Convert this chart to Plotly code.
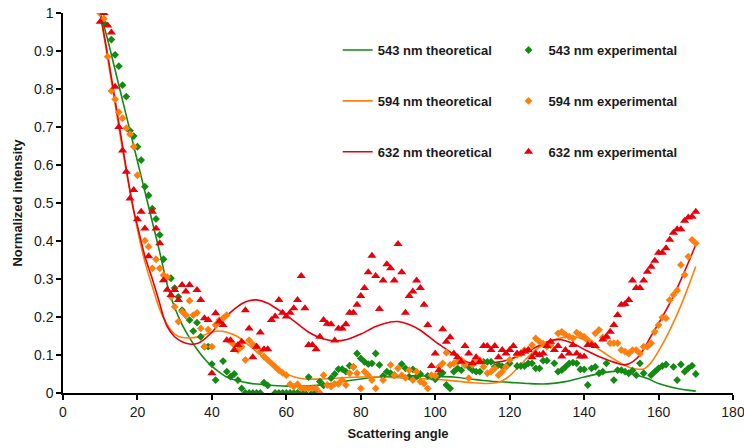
import plotly.graph_objects as go

# ---- theoretical curves (angle in degrees, normalized intensity) ----
th_543_x = [10, 12, 14, 16, 18, 20, 22, 24, 26, 28, 30, 32, 34, 36, 38, 40, 42, 44, 47, 50,
            55, 60, 65, 70, 75, 80, 85, 90, 95, 100, 105, 110, 115, 120, 125, 130, 135, 140,
            145, 148, 150, 153, 157, 160, 165, 170]
th_543_y = [1.0, 0.93, 0.85, 0.77, 0.69, 0.61, 0.53, 0.45, 0.37, 0.285, 0.225, 0.18, 0.145,
            0.115, 0.09, 0.07, 0.055, 0.042, 0.032, 0.026, 0.021, 0.018, 0.018, 0.022, 0.03,
            0.037, 0.042, 0.045, 0.045, 0.044, 0.042, 0.036, 0.031, 0.028, 0.025, 0.024, 0.03,
            0.042, 0.053, 0.057, 0.056, 0.05, 0.038, 0.025, 0.012, 0.005]

th_594_x = [10, 12, 14, 16, 18, 20, 22, 24, 26, 28, 30, 32, 34, 36, 38, 40, 42, 44, 47, 50,
            53, 56, 59, 62, 65, 70, 75, 80, 85, 90, 95, 100, 105, 110, 114, 117, 120, 123,
            126, 129, 132, 135, 138, 141, 144, 147, 150, 152, 154, 156, 158, 160, 163, 166,
            168, 170]
th_594_y = [1.0, 0.88, 0.76, 0.64, 0.53, 0.43, 0.345, 0.28, 0.22, 0.18, 0.155, 0.146, 0.145,
            0.147, 0.153, 0.16, 0.163, 0.16, 0.148, 0.125, 0.1, 0.075, 0.055, 0.043, 0.037,
            0.037, 0.04, 0.042, 0.042, 0.04, 0.039, 0.036, 0.032, 0.027, 0.025, 0.028, 0.045,
            0.075, 0.105, 0.127, 0.14, 0.147, 0.147, 0.135, 0.115, 0.095, 0.078, 0.068, 0.063,
            0.063, 0.08, 0.11, 0.165, 0.23, 0.28, 0.333]

th_632_x = [10, 12, 14, 16, 17.5, 19, 20, 22, 24, 26, 27, 28, 30, 32, 34, 36, 38, 40, 42, 45,
            48, 50, 52, 55, 58, 62, 66, 70, 73, 76, 80, 84, 88, 90, 93, 96, 100, 103, 106,
            109, 112, 116, 120, 124, 128, 131, 134, 137, 141, 145, 149, 151, 153, 155, 158,
            161, 164, 167, 170]
th_632_y = [1.0, 0.89, 0.77, 0.65, 0.56, 0.48, 0.44, 0.36, 0.3, 0.235, 0.2, 0.175, 0.148,
            0.135, 0.129, 0.13, 0.142, 0.16, 0.182, 0.212, 0.235, 0.243, 0.245, 0.236, 0.218,
            0.19, 0.16, 0.142, 0.137, 0.14, 0.155, 0.175, 0.187, 0.188, 0.18, 0.165, 0.135,
            0.115, 0.095, 0.08, 0.078, 0.08, 0.088, 0.105, 0.125, 0.138, 0.14, 0.13, 0.11,
            0.092, 0.078, 0.074, 0.082, 0.1, 0.15, 0.2, 0.255, 0.32, 0.39]

# ---- experimental measurements ----
ex_543_x = [10, 11, 13, 14, 15, 16, 17, 18, 19, 20, 21, 22, 23, 24, 25, 26, 27, 29, 30, 31,
            32, 33, 34, 35, 36, 37, 38, 39, 40, 41, 43, 44, 45, 46, 47, 48, 49, 50, 51, 52,
            53, 54, 55, 57, 58, 59, 60, 61, 62, 63, 64, 65, 66, 67, 68, 69, 70, 72, 73, 74,
            75, 76, 77, 78, 79, 80, 81, 82, 83, 84, 85, 86, 87, 88, 89, 91, 92, 93, 94, 95,
            96, 98, 99, 100, 101, 102, 103, 104, 105, 106, 107, 108, 109, 110, 111, 112, 113,
            114, 115, 116, 117, 118, 119, 120, 122, 123, 124, 125, 126, 127, 128, 129, 130,
            132, 133, 134, 135, 136, 137, 138, 139, 140, 141, 142, 143, 144, 145, 146, 148,
            149, 150, 151, 152, 153, 154, 155, 156, 158, 159, 160, 161, 162, 164, 165, 166,
            167, 168, 169, 170]
ex_543_y = [1.0, 0.973, 0.93, 0.89, 0.86, 0.81, 0.78, 0.69, 0.676, 0.648, 0.613, 0.543, 0.52,
            0.485, 0.458, 0.416, 0.352, 0.302, 0.276, 0.253, 0.218, 0.205, 0.192, 0.163, 0.185,
            0.148, 0.122, 0.122, 0.076, 0.034, 0.084, 0.056, 0.043, 0.05, 0.034, 0.012, 0.0,
            0.0, 0.0, 0.0, 0.0, 0.027, 0.02, 0.0, 0.0, 0.0, 0.0, 0.0, 0.0, 0.0, 0.0, 0.0, 0.042,
            0.0, 0.0, 0.03, 0.02, 0.039, 0.05, 0.063, 0.063, 0.056, 0.072, 0.069, 0.104, 0.091,
            0.082, 0.076, 0.078, 0.104, 0.074, 0.045, 0.056, 0.052, 0.047, 0.076, 0.065, 0.043,
            0.062, 0.043, 0.05, 0.045, 0.043, 0.036, 0.047, 0.053, 0.021, 0.012, 0.056, 0.065,
            0.06, 0.074, 0.069, 0.06, 0.056, 0.056, 0.082, 0.082, 0.082, 0.069, 0.074, 0.07,
            0.069, 0.078, 0.071, 0.071, 0.071, 0.078, 0.078, 0.065, 0.065, 0.085, 0.085, 0.078,
            0.056, 0.06, 0.069, 0.078, 0.08, 0.078, 0.062, 0.062, 0.021, 0.065, 0.069, 0.052,
            0.056, 0.078, 0.034, 0.06, 0.06, 0.056, 0.052, 0.059, 0.047, 0.078, 0.052, 0.047,
            0.056, 0.065, 0.071, 0.075, 0.069, 0.034, 0.075, 0.056, 0.065, 0.072, 0.05, 0.056]

ex_594_x = [10, 11, 12, 13, 14, 15, 16, 17, 18, 19, 20, 22, 23, 24, 25, 26, 27, 28, 29, 30,
            31, 32, 33, 34, 35, 36, 37, 38, 39, 40, 41, 42, 43, 44, 45, 46, 47, 48, 49, 50,
            51, 52, 53, 54, 55, 56, 57, 58, 59, 60, 61, 62, 63, 64, 65, 66, 67, 68, 69, 70,
            71, 72, 73, 74, 75, 76, 77, 78, 79, 80, 81, 82, 83, 84, 86, 88, 89, 90, 91, 92,
            93, 94, 95, 96, 97, 98, 99, 100, 101, 102, 103, 104, 105, 106, 107, 108, 109, 110,
            111, 112, 113, 114, 115, 116, 117, 118, 119, 120, 122, 123, 124, 125, 126, 127,
            128, 129, 130, 131, 133, 134, 135, 136, 137, 138, 139, 140, 141, 142, 143, 144,
            145, 146, 147, 148, 149, 150, 151, 152, 153, 154, 155, 156, 157, 158, 159, 160,
            161, 162, 163, 164, 165, 166, 167, 168, 169, 170]
ex_594_y = [1.0, 0.985, 0.885, 0.795, 0.773, 0.739, 0.723, 0.697, 0.681, 0.648, 0.573, 0.401,
            0.385, 0.328, 0.352, 0.328, 0.31, 0.305, 0.253, 0.227, 0.188, 0.214, 0.205, 0.243,
            0.205, 0.211, 0.17, 0.122, 0.167, 0.122, 0.179, 0.192, 0.197, 0.205, 0.135, 0.126,
            0.113, 0.122, 0.087, 0.139, 0.128, 0.122, 0.109, 0.096, 0.087, 0.078, 0.069, 0.06,
            0.053, 0.047, 0.023, 0.017, 0.023, 0.012, 0.012, 0.012, 0.012, 0.012, 0.0, 0.047,
            0.021, 0.017, 0.024, 0.024, 0.034, 0.021, 0.052, 0.069, 0.052, 0.012, 0.056, 0.047,
            0.034, 0.012, 0.034, 0.074, 0.047, 0.065, 0.047, 0.04, 0.06, 0.034, 0.056, 0.03,
            0.025, 0.012, 0.047, 0.045, 0.069, 0.078, 0.106, 0.074, 0.078, 0.082, 0.087, 0.074,
            0.039, 0.074, 0.087, 0.087, 0.069, 0.052, 0.056, 0.065, 0.047, 0.056, 0.069, 0.087,
            0.1, 0.104, 0.113, 0.113, 0.126, 0.144, 0.135, 0.13, 0.122, 0.126, 0.157, 0.161,
            0.153, 0.148, 0.144, 0.159, 0.153, 0.148, 0.139, 0.131, 0.157, 0.166, 0.146, 0.148,
            0.131, 0.131, 0.131, 0.113, 0.109, 0.104, 0.113, 0.113, 0.104, 0.122, 0.122, 0.131,
            0.161, 0.179, 0.199, 0.197, 0.245, 0.258, 0.27, 0.337, 0.311, 0.359, 0.403, 0.394]

ex_632_x = [10, 11, 12, 13, 14, 15, 16, 17, 18, 19, 20, 21, 22, 23, 24, 25, 26, 27, 28, 29,
            30, 31, 32, 33, 34, 36, 37, 38, 39, 40, 41, 42, 43, 44, 45, 46, 47, 48, 49, 50,
            51, 52, 53, 54, 55, 56, 57, 58, 59, 60, 61, 62, 63, 64, 65, 66, 67, 68, 69, 70,
            71, 72, 73, 74, 75, 76, 77, 78, 79, 80, 81, 82, 83, 84, 85, 86, 87, 88, 89, 90,
            91, 92, 93, 94, 95, 96, 97, 98, 99, 100, 101, 102, 103, 104, 105, 106, 107, 108,
            109, 110, 111, 112, 113, 114, 115, 116, 117, 118, 119, 120, 121, 122, 123, 124,
            125, 126, 127, 128, 129, 130, 131, 132, 133, 134, 135, 136, 137, 138, 139, 140,
            141, 142, 143, 145, 146, 147, 148, 149, 150, 151, 152, 153, 154, 155, 156, 157,
            158, 159, 160, 161, 162, 163, 164, 165, 166, 167, 168, 169, 170]
ex_632_y = [0.977, 1.0, 0.967, 0.949, 0.806, 0.7, 0.638, 0.582, 0.512, 0.534, 0.457, 0.477,
            0.433, 0.36, 0.477, 0.433, 0.394, 0.297, 0.272, 0.258, 0.271, 0.245, 0.284, 0.267,
            0.284, 0.271, 0.245, 0.197, 0.192, 0.052, 0.21, 0.188, 0.179, 0.139, 0.139, 0.113,
            0.126, 0.135, 0.218, 0.17, 0.094, 0.122, 0.159, 0.115, 0.115, 0.192, 0.201, 0.245,
            0.211, 0.201, 0.211, 0.223, 0.245, 0.308, 0.223, 0.126, 0.126, 0.115, 0.148, 0.192,
            0.182, 0.181, 0.138, 0.17, 0.17, 0.181, 0.211, 0.211, 0.232, 0.255, 0.276, 0.318,
            0.361, 0.308, 0.221, 0.296, 0.339, 0.328, 0.296, 0.392, 0.318, 0.211, 0.255, 0.267,
            0.296, 0.276, 0.232, 0.179, 0.071, 0.104, 0.06, 0.168, 0.135, 0.147, 0.104, 0.094,
            0.082, 0.124, 0.104, 0.078, 0.094, 0.082, 0.124, 0.124, 0.113, 0.124, 0.094, 0.113,
            0.104, 0.113, 0.124, 0.104, 0.104, 0.109, 0.113, 0.094, 0.104, 0.1, 0.104, 0.124,
            0.135, 0.113, 0.124, 0.096, 0.113, 0.104, 0.126, 0.104, 0.096, 0.096, 0.126, 0.126,
            0.124, 0.141, 0.148, 0.161, 0.179, 0.205, 0.232, 0.234, 0.245, 0.296, 0.276, 0.276,
            0.296, 0.319, 0.332, 0.348, 0.369, 0.369, 0.381, 0.403, 0.422, 0.431, 0.431, 0.453,
            0.462, 0.464, 0.477]

x_ticks = [0, 20, 40, 60, 80, 100, 120, 140, 160, 180]
y_ticks = [0, 0.1, 0.2, 0.3, 0.4, 0.5, 0.6, 0.7, 0.8, 0.9, 1]
y_tick_text = ["0", "0.1", "0.2", "0.3", "0.4", "0.5", "0.6", "0.7", "0.8", "0.9", "1"]

GREEN = "#138a13"
ORANGE = "#ff7f0e"
RED = "#e8000b"

fig = go.Figure()

# theoretical curves
for name, xs, ys, col, grp in [
    ("543 nm theoretical", th_543_x, th_543_y, GREEN, "t1"),
    ("594 nm theoretical", th_594_x, th_594_y, ORANGE, "t2"),
    ("632 nm theoretical", th_632_x, th_632_y, RED, "t3"),
]:
    fig.add_trace(go.Scatter(
        x=xs, y=ys, mode="lines", name=name, legend="legend", legendgroup=grp,
        line=dict(color=col, width=1.6, shape="spline", smoothing=0.8),
    ))

# experimental points
for name, xs, ys, col, sym, sz, grp in [
    ("543 nm experimental", ex_543_x, ex_543_y, GREEN, "diamond", 6, "e1"),
    ("594 nm experimental", ex_594_x, ex_594_y, ORANGE, "diamond", 6, "e2"),
    ("632 nm experimental", ex_632_x, ex_632_y, RED, "triangle-up", 8, "e3"),
]:
    fig.add_trace(go.Scatter(
        x=xs, y=ys, mode="markers", name=name, legend="legend2", legendgroup=grp,
        marker=dict(color=col, symbol=sym, size=sz, line=dict(width=0)),
    ))

FAMILY = "Liberation Sans, Arial, sans-serif"
legend_font = dict(family=FAMILY, size=13, color="#1a1a1a", weight="bold")

fig.update_layout(
    width=744, height=448,
    margin=dict(l=63, r=11, t=13, b=55, autoexpand=False),
    paper_bgcolor="white", plot_bgcolor="white",
    font=dict(family=FAMILY, size=14, color="#1a1a1a"),
    legend=dict(x=0.41, y=0.942, xanchor="left", yanchor="top", font=legend_font,
                bgcolor="rgba(0,0,0,0)", tracegroupgap=31, itemwidth=30),
    legend2=dict(x=0.665, y=0.942, xanchor="left", yanchor="top", font=legend_font,
                 bgcolor="rgba(0,0,0,0)", tracegroupgap=31, itemwidth=30),
    xaxis=dict(
        range=[0, 180], tickvals=x_ticks, showgrid=False, zeroline=False,
        showline=True, linecolor="black", linewidth=1.5, automargin=False,
        ticklabeloverflow="allow",
        ticks="outside", ticklen=5, tickwidth=1.5, tickcolor="black",
        title=dict(text="Scattering angle", standoff=10,
                   font=dict(size=13, weight="bold")),
    ),
    yaxis=dict(
        range=[0, 1], tickvals=y_ticks, ticktext=y_tick_text, showgrid=False,
        zeroline=False, showline=True, linecolor="black", linewidth=1.5, automargin=False,
        ticklabeloverflow="allow",
        ticks="outside", ticklen=5, tickwidth=1.5, tickcolor="black",
        title=dict(text="Normalized intensity", standoff=8,
                   font=dict(size=13, weight="bold")),
    ),
)

fig.write_html("out.html")
